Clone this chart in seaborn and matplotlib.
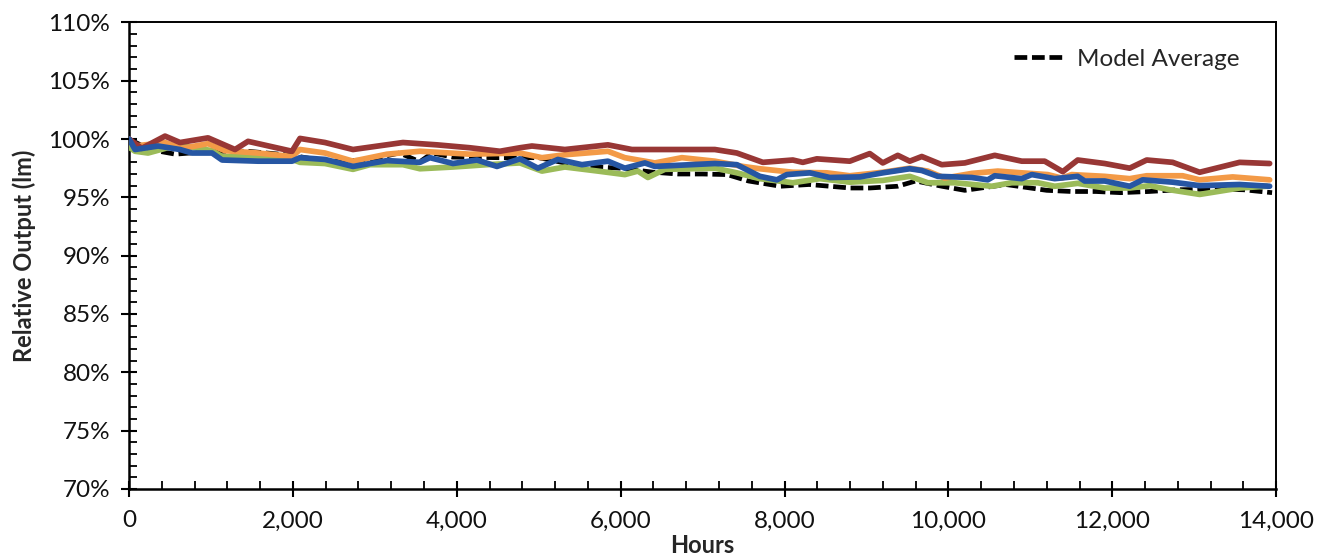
import matplotlib
matplotlib.use("Agg")
import matplotlib.pyplot as plt
import seaborn as sns
import pandas as pd
from matplotlib.ticker import MultipleLocator, FuncFormatter

# ---------------- data ----------------
red_hours = [0, 155, 439, 622, 964, 1293, 1452, 1989, 2086, 2391, 2733, 3343, 3758, 4160,
             4526, 4770, 4917, 5319, 5844, 6137, 6454, 7149, 7418, 7735, 8101, 8223, 8394,
             8796, 9040, 9199, 9382, 9528, 9675, 9919, 10200, 10565, 10895, 11175, 11395,
             11578, 11907, 12212, 12420, 12737, 13066, 13554, 13920]
red_values = [100.0, 99.2, 100.25, 99.7, 100.1, 99.1, 99.8, 98.95, 100.05, 99.7, 99.1, 99.7,
              99.5, 99.25, 98.95, 99.25, 99.4, 99.1, 99.5, 99.1, 99.1, 99.1, 98.8, 98.0, 98.2,
              98.0, 98.3, 98.1, 98.75, 97.95, 98.6, 98.1, 98.5, 97.8, 97.95, 98.6, 98.1, 98.1,
              97.2, 98.2, 97.9, 97.5, 98.2, 98.0, 97.15, 98.0, 97.9]

orange_hours = [0, 73, 439, 647, 964, 1171, 1574, 1989, 2086, 2391, 2733, 3148, 3550, 4160,
                4770, 5039, 5319, 5844, 6051, 6417, 6747, 7149, 7491, 7698, 8101, 8516, 8796,
                9199, 9528, 9748, 9955, 10285, 10602, 10895, 11212, 11383, 11505, 11907,
                12212, 12420, 12859, 13066, 13469, 13920]
orange_values = [100.0, 99.4, 99.7, 99.2, 99.6, 99.0, 98.8, 98.5, 99.1, 98.8, 98.1, 98.7,
                 98.95, 98.7, 98.8, 98.4, 98.65, 98.95, 98.4, 97.95, 98.4, 98.1, 97.65, 97.45,
                 97.15, 97.1, 96.85, 97.15, 97.5, 97.25, 96.65, 97.05, 97.25, 97.1, 96.95,
                 96.65, 96.95, 96.8, 96.6, 96.85, 96.85, 96.5, 96.75, 96.5]

green_hours = [0, 73, 232, 598, 1013, 1135, 1574, 1989, 2086, 2391, 2733, 2940, 3343, 3550,
               3953, 4368, 4770, 5039, 5319, 5722, 6051, 6210, 6332, 6539, 7149, 7418, 7698,
               8101, 8430, 8796, 9199, 9528, 9748, 10077, 10529, 10773, 11090, 11297, 11578,
               11907, 12212, 12456, 12700, 13066, 13554, 13884]
green_values = [99.3, 98.95, 98.8, 99.5, 99.0, 98.5, 98.5, 98.25, 98.0, 97.9, 97.4, 97.8,
                97.8, 97.45, 97.6, 97.8, 97.95, 97.25, 97.6, 97.25, 96.95, 97.25, 96.7, 97.4,
                97.5, 97.1, 96.6, 96.25, 96.6, 96.3, 96.45, 96.8, 96.25, 96.25, 95.95, 96.25,
                96.25, 95.95, 96.2, 95.8, 95.8, 96.0, 95.65, 95.25, 95.8, 95.95]

blue_hours = [0, 73, 354, 622, 769, 1013, 1135, 1574, 1989, 2086, 2391, 2733, 3148, 3550,
              3672, 3953, 4246, 4490, 4770, 4990, 5234, 5527, 5844, 6051, 6295, 6417, 7149,
              7418, 7698, 7906, 8028, 8308, 8552, 8918, 9199, 9528, 9675, 9870, 10285, 10480,
              10565, 10895, 11017, 11297, 11578, 11663, 11907, 12212, 12371, 12737, 13066,
              13554, 13920]
blue_values = [100.0, 99.1, 99.4, 99.1, 98.8, 98.8, 98.2, 98.1, 98.1, 98.4, 98.25, 97.65,
               98.15, 98.0, 98.4, 97.9, 98.2, 97.65, 98.3, 97.5, 98.25, 97.8, 98.1, 97.5,
               97.95, 97.65, 97.9, 97.8, 96.8, 96.5, 96.95, 97.1, 96.7, 96.75, 97.1, 97.45,
               97.3, 96.8, 96.7, 96.5, 96.85, 96.6, 96.95, 96.6, 96.8, 96.4, 96.4, 95.95,
               96.5, 96.3, 96.0, 96.1, 95.95]

avg_hours = [0, 250, 565, 1013, 1450, 1990, 2400, 2900, 3300, 3550, 3700, 3950, 4500, 5000,
             5527, 6000, 6400, 6700, 7000, 7300, 7560, 7950, 8300, 8800, 9040, 9380, 9600,
             9920, 10200, 10700, 11200, 11500, 11800, 12100, 12450, 12800, 13300, 13600, 13950]
avg_values = [100.0, 99.1, 98.7, 98.95, 98.95, 98.6, 98.1, 98.2, 98.8, 98.05, 98.8, 98.45,
              98.4, 98.4, 97.65, 97.5, 97.15, 97.0, 97.0, 96.95, 96.4, 95.95, 96.1, 95.8,
              95.8, 95.95, 96.4, 95.95, 95.6, 96.1, 95.6, 95.5, 95.5, 95.4, 95.5, 95.65,
              95.7, 95.65, 95.4]

x_ticks = [0, 2000, 4000, 6000, 8000, 10000, 12000, 14000]
y_ticks = [70, 75, 80, 85, 90, 95, 100, 105, 110]

legend_label = "Model Average"
x_label = "Hours"
y_label = "Relative Output (lm)"

# ---------------- figure ----------------
sns.set_style("white")
plt.rcParams["font.family"] = ["Lato", "DejaVu Sans"]

fig = plt.figure(figsize=(13.17, 5.6), dpi=100)
ax = fig.add_axes([0.098, 0.127, 0.871, 0.833])

lw = 4.1
sns.lineplot(x=avg_hours, y=avg_values, ax=ax, color="black", lw=3.4,
             linestyle=(0, (2.7, 1.0)), label=legend_label, zorder=2)
sns.lineplot(x=green_hours, y=green_values, ax=ax, color="#9BBB59", lw=lw, zorder=3)
sns.lineplot(x=orange_hours, y=orange_values, ax=ax, color="#F39A47", lw=lw, zorder=3)
sns.lineplot(x=red_hours, y=red_values, ax=ax, color="#983735", lw=lw, zorder=4)
sns.lineplot(x=blue_hours, y=blue_values, ax=ax, color="#2656A3", lw=lw, zorder=5)

ax.set_xlim(x_ticks[0], x_ticks[-1])
ax.set_ylim(y_ticks[0], y_ticks[-1])
ax.set_xticks(x_ticks)
ax.set_yticks(y_ticks)
ax.xaxis.set_minor_locator(MultipleLocator(400))
ax.yaxis.set_minor_locator(MultipleLocator(1))
ax.xaxis.set_major_formatter(FuncFormatter(lambda v, p: f"{v:,.0f}"))
ax.yaxis.set_major_formatter(FuncFormatter(lambda v, p: f"{v:.0f}%"))

ax.tick_params(axis="both", which="major", direction="inout", length=11, width=1.5,
               color="black", labelsize=17.5, labelcolor="#111111")
ax.tick_params(axis="both", which="minor", direction="in", length=5.5, width=1.3,
               color="black")
ax.tick_params(axis="x", which="major", pad=10)
ax.tick_params(axis="y", which="major", pad=8)
ax.tick_params(left=True, bottom=True, which="both")

for side in ["left", "bottom"]:
    ax.spines[side].set_linewidth(1.8)
    ax.spines[side].set_color("black")
for side in ["top", "right"]:
    ax.spines[side].set_linewidth(1.4)
    ax.spines[side].set_color("black")

ax.set_xlabel(x_label, fontsize=17, fontweight="bold", labelpad=2)
ax.set_ylabel(y_label, fontsize=17, fontweight="bold", labelpad=9)

leg = ax.legend(loc="upper right", frameon=False, fontsize=17.5, handlelength=2.0,
                handletextpad=0.6, borderaxespad=0.4, bbox_to_anchor=(0.985, 0.985))

fig.savefig("out.png", dpi=100, facecolor="white")
